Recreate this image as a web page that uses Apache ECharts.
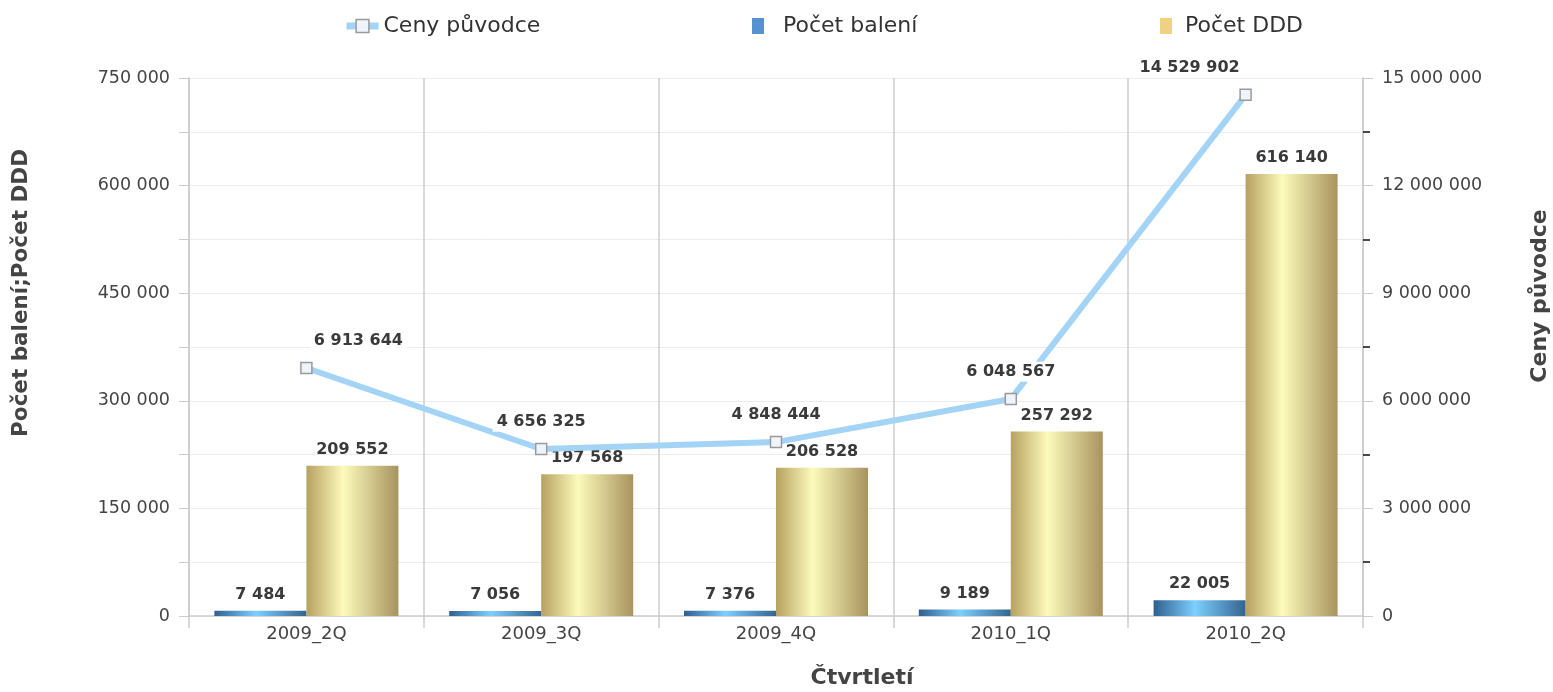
<!DOCTYPE html>
<html>
<head>
<meta charset="utf-8">
<script src="https://cdn.jsdelivr.net/npm/echarts@6/dist/echarts.min.js"></script>
<style>html,body{margin:0;padding:0;background:#fff}#c{width:1553px;height:692px}</style>
</head>
<body>
<div id="c"></div>
<script>
const categories = ['2009_2Q','2009_3Q','2009_4Q','2010_1Q','2010_2Q'];
const pocetBaleni = [7484, 7056, 7376, 9189, 22005];
const pocetDDD = [209552, 197568, 206528, 257292, 616140];
const cenyPuvodce = [6913644, 4656325, 4848444, 6048567, 14529902];
const lineLabelShift = [52, 0, 0, 0, -56];

const FONT = 'DejaVu Sans';
function fmt(v){ return String(Math.round(v)).replace(/\B(?=(\d{3})+(?!\d))/g, ' '); }

const chart = echarts.init(document.getElementById('c'));
const blueGrad = new echarts.graphic.LinearGradient(0,0,1,0,[
  {offset:0,color:'#2f5f8f'},{offset:0.45,color:'#7dcfff'},{offset:1,color:'#34638f'}]);
const goldGrad = new echarts.graphic.LinearGradient(0,0,1,0,[
  {offset:0,color:'#b6a160'},{offset:0.4,color:'#fcfbbb'},{offset:1,color:'#a8935e'}]);

const labelStyle = {show:true, position:'top', distance:8, fontFamily:FONT, fontWeight:'bold', fontSize:16, color:'#3a3a3a', formatter:p=>fmt(p.value)};
const legendText = {fontFamily:FONT, fontSize:22, color:'#333'};

chart.setOption({
  animation:false,
  textStyle:{fontFamily:FONT},
  grid:{left:189, right:190, top:78, bottom:76},
  legend:[
    {left:338, top:10, itemWidth:32, itemHeight:16, textStyle:legendText,
     data:[{name:'Ceny původce', lineStyle:{color:'#a3d4f6', width:7}, itemStyle:{color:'#eef4fa', borderColor:'#9a9a9a', borderWidth:1.5}}]},
    {left:747, top:10, itemWidth:12, itemHeight:16, textStyle:Object.assign({padding:[0,0,0,14]}, legendText),
     data:[{name:'Počet balení', icon:'rect', itemStyle:{color:'#5592cf'}}]},
    {left:1155, top:10, itemWidth:12, itemHeight:16, textStyle:Object.assign({padding:[0,0,0,8]}, legendText),
     data:[{name:'Počet DDD', icon:'rect', itemStyle:{color:'#f0d183'}}]}
  ],
  xAxis:{
    type:'category', data:categories,
    axisLine:{lineStyle:{color:'#cccccc', width:1.5}},
    axisTick:{show:true, length:12, lineStyle:{color:'#cccccc', width:1.5}},
    axisLabel:{fontFamily:FONT, fontSize:18, color:'#444', margin:9},
    splitLine:{show:true, lineStyle:{color:'#cccccc', width:1.5}}
  },
  yAxis:[
    {type:'value', min:0, max:750000, interval:150000, position:'left',
     axisLine:{show:true, lineStyle:{color:'#cccccc', width:1.5}},
     axisTick:{show:true, length:10, lineStyle:{color:'#cccccc'}},
     minorTick:{show:true, splitNumber:2, length:10, lineStyle:{color:'#cccccc'}},
     minorSplitLine:{show:true, lineStyle:{color:'#ececec'}},
     splitLine:{show:true, lineStyle:{color:'#ececec'}},
     axisLabel:{fontFamily:FONT, fontSize:17.5, color:'#444', margin:19, formatter:fmt}},
    {type:'value', min:0, max:15000000, interval:3000000, position:'right',
     axisLine:{show:true, lineStyle:{color:'#cccccc', width:1.5}},
     axisTick:{show:true, length:10, lineStyle:{color:'#cccccc'}},
     minorTick:{show:true, splitNumber:2, length:7, lineStyle:{color:'#111', width:1.5}},
     splitLine:{show:false},
     axisLabel:{fontFamily:FONT, fontSize:17.5, color:'#444', margin:19, formatter:fmt}}
  ],
  series:[
    {name:'Počet balení', type:'bar', yAxisIndex:0, data:pocetBaleni, barWidth:92, barGap:'0%',
     itemStyle:{color:blueGrad}, label:labelStyle},
    {name:'Počet DDD', type:'bar', yAxisIndex:0, data:pocetDDD, barWidth:92, barGap:'0%',
     itemStyle:{color:goldGrad}, label:labelStyle},
    {name:'Ceny původce', type:'line', yAxisIndex:1, z:5,
     data:cenyPuvodce.map((v,i)=>({value:v, label:{offset:[lineLabelShift[i],0]}})),
     lineStyle:{color:'#a3d4f6', width:6},
     symbol:'rect', symbolSize:11,
     itemStyle:{color:'#eef4fa', borderColor:'#9a9a9a', borderWidth:1.5},
     label:{show:true, position:'top', distance:11, fontFamily:FONT, fontWeight:'bold', fontSize:16, color:'#3a3a3a',
            backgroundColor:'#fff', padding:[2,4], formatter:p=>fmt(p.value)}}
  ],
  graphic:[
    {type:'text', left:10, top:149, rotation:Math.PI/2, style:{text:'Počet balení;Počet DDD', font:'bold 21.5px "DejaVu Sans"', fill:'#444'}},
    {type:'text', x:1540, y:296, rotation:Math.PI/2, style:{text:'Ceny původce', font:'bold 22px "DejaVu Sans"', fill:'#444', align:'center', verticalAlign:'middle'}},
    {type:'text', x:862, y:678, style:{text:'Čtvrtletí', font:'bold 22px "DejaVu Sans"', fill:'#444', align:'center', verticalAlign:'middle'}}
  ]
});
</script>
</body>
</html>
